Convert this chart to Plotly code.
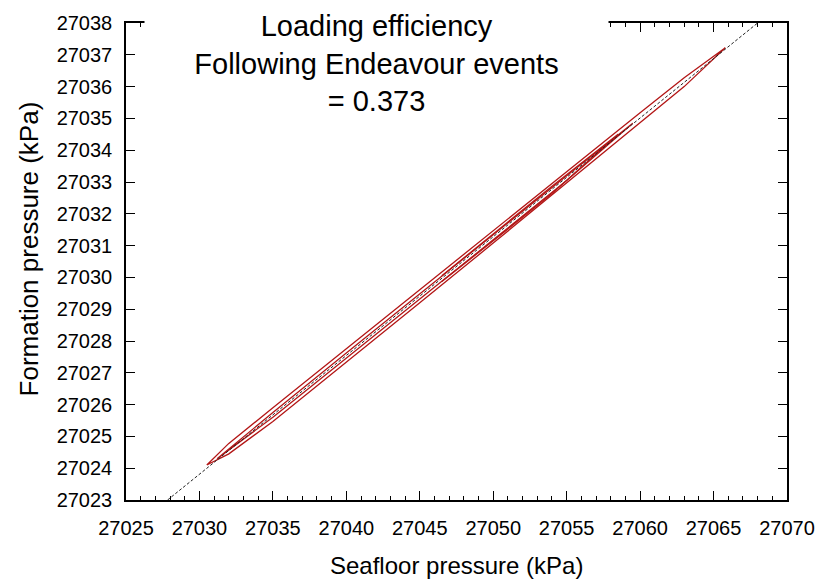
import plotly.graph_objects as go

# Fitted loading-efficiency line (seafloor vs formation pressure, kPa)
fit_x = [27027.83, 27068.0]
fit_y = [27023.0, 27038.0]

# Pressure cycles following the Endeavour events (kPa)
# outer cycle: rising branch then falling branch
loop1_x = [27030.5, 27032.0, 27035.0, 27040.0, 27045.0, 27050.0, 27055.0, 27060.0, 27063.0, 27065.8,
           27063.0, 27060.0, 27055.0, 27050.0, 27045.0, 27040.0, 27035.0, 27032.0, 27031.0, 27030.5]
loop1_y = [27024.10, 27024.78, 27025.90, 27027.76, 27029.62, 27031.48, 27033.33, 27035.18, 27036.28, 27037.22,
           27036.00, 27034.86, 27032.96, 27031.08, 27029.20, 27027.33, 27025.47, 27024.45, 27024.20, 27024.10]

# inner cycle
loop2_x = [27031.2, 27035.0, 27040.0, 27045.0, 27050.0, 27055.0, 27059.5,
           27055.0, 27050.0, 27045.0, 27040.0, 27035.0, 27031.2]
loop2_y = [27024.30, 27025.75, 27027.62, 27029.49, 27031.35, 27033.20, 27034.85,
           27033.05, 27031.18, 27029.31, 27027.45, 27025.60, 27024.30]

# short cycle in the upper half
loop3_x = [27046.5, 27050.0, 27054.0, 27058.5, 27054.0, 27050.0, 27046.5]
loop3_y = [27030.05, 27031.38, 27032.87, 27034.50, 27032.64, 27031.15, 27029.87]

loops = [(loop1_x, loop1_y), (loop2_x, loop2_y), (loop3_x, loop3_y)]

x_range = [27025, 27070]
y_range = [27023, 27038]

RED = "#b31616"
FONT = "Liberation Sans, Arial, sans-serif"

fig = go.Figure()

for lx, ly in loops:
    fig.add_trace(go.Scatter(x=lx, y=ly, mode="lines",
                             line=dict(color=RED, width=1.3),
                             hoverinfo="skip", showlegend=False))

fig.add_trace(go.Scatter(x=fit_x, y=fit_y, mode="lines",
                         line=dict(color="#222222", width=1, dash="3px,2px"),
                         hoverinfo="skip", showlegend=False))

axis_common = dict(
    showline=True, linecolor="black", linewidth=1.5,
    mirror="ticks", ticks="inside", ticklen=9, tickwidth=1.3, tickcolor="black",
    showgrid=False, zeroline=False, tickformat="d",
    tickfont=dict(family=FONT, size=20, color="black"),
)

fig.update_xaxes(range=x_range, dtick=5, tick0=27025,
                 minor=dict(dtick=1, ticks="inside", ticklen=4, tickwidth=1.2, tickcolor="black"),
                 ticklabelstandoff=9, **axis_common)
fig.update_yaxes(range=y_range, dtick=1, tick0=27023,
                 ticklabelstandoff=8, **axis_common)

fig.add_annotation(
    text="Loading efficiency<br>Following Endeavour events<br>= 0.373",
    xref="paper", yref="paper", x=0.3786, y=1.03, xanchor="center", yanchor="top",
    showarrow=False, align="center", width=463, bgcolor="white", borderpad=0,
    font=dict(family=FONT, size=29, color="black"),
)
fig.add_annotation(
    text="Seafloor pressure (kPa)", xref="paper", yref="paper",
    x=0.5, y=-0.138, xanchor="center", yanchor="middle", showarrow=False,
    font=dict(family=FONT, size=24, color="black"),
)
fig.add_annotation(
    text="Formation pressure (kPa)", xref="paper", yref="paper",
    x=-0.147, y=0.527, xanchor="center", yanchor="middle", showarrow=False,
    textangle=-90, font=dict(family=FONT, size=26, color="black"),
)

fig.update_layout(
    width=827, height=583,
    margin=dict(l=126, r=34, t=20, b=83),
    paper_bgcolor="white", plot_bgcolor="white",
    font=dict(family=FONT, color="black"),
)

fig.write_html("out.html")
